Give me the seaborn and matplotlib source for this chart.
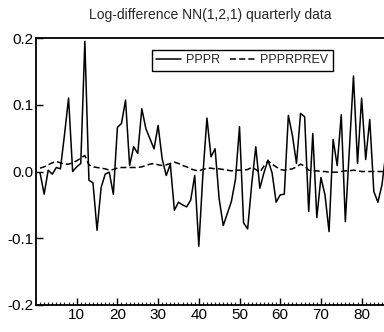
import numpy as np
import pandas as pd
import matplotlib
matplotlib.use("Agg")
import matplotlib.pyplot as plt
import seaborn as sns

obs = np.arange(1, 87)
pppr = [-0.002, -0.034, 0.002, -0.004, 0.006, 0.004, 0.055, 0.110, 0.000, 0.007,
        0.012, 0.195, -0.013, -0.017, -0.088, -0.024, -0.004, -0.001, -0.034, 0.066,
        0.072, 0.107, 0.009, 0.037, 0.027, 0.094, 0.064, 0.049, 0.034, 0.069,
        0.019, -0.006, 0.011, -0.058, -0.046, -0.050, -0.053, -0.043, -0.006, -0.112,
        -0.005, 0.080, 0.022, 0.034, -0.041, -0.081, -0.063, -0.045, -0.012, 0.067,
        -0.077, -0.086, -0.019, 0.037, -0.025, -0.002, 0.017, -0.002, -0.046, -0.035,
        -0.034, 0.084, 0.054, 0.012, 0.087, 0.082, -0.060, 0.057, -0.069, -0.009,
        -0.035, -0.090, 0.048, 0.009, 0.085, -0.075, 0.034, 0.143, 0.012, 0.110,
        0.018, 0.078, -0.030, -0.046, -0.020, 0.030]
ppprprev = [0.005, 0.007, 0.010, 0.013, 0.015, 0.013, 0.011, 0.011, 0.013, 0.016,
            0.020, 0.024, 0.010, 0.007, 0.006, 0.005, 0.004, 0.002, 0.003, 0.005,
            0.006, 0.006, 0.006, 0.006, 0.006, 0.007, 0.009, 0.011, 0.012, 0.010,
            0.009, 0.010, 0.012, 0.014, 0.012, 0.009, 0.007, 0.004, 0.002, 0.001,
            0.003, 0.005, 0.005, 0.004, 0.004, 0.003, 0.002, 0.001, 0.002, 0.002,
            0.002, 0.003, 0.006, 0.003, -0.001, 0.008, 0.016, 0.011, 0.007, 0.003,
            0.002, 0.003, 0.004, 0.007, 0.011, 0.008, 0.002, 0.001, 0.001, 0.000,
            0.000, -0.001, -0.001, -0.001, 0.000, 0.001, 0.001, 0.002, 0.001, 0.000,
            0.000, 0.000, 0.000, 0.000, 0.000, 0.000]
xticks = [10, 20, 30, 40, 50, 60, 70, 80]
yticks = [-0.2, -0.1, 0.0, 0.1, 0.2]

df = pd.DataFrame({"obs": np.concatenate([obs, obs]),
                   "value": pppr + ppprprev,
                   "series": ["PPPR"] * len(obs) + ["PPPRPREV"] * len(obs)})

sns.set_style("ticks")
plt.rcParams["font.family"] = ["Liberation Sans", "DejaVu Sans"]

fig = plt.figure(figsize=(3.84, 3.32), dpi=100)
ax = fig.add_axes([36 / 384, 27 / 332, 1 - 36 / 384, 267 / 332])

sns.lineplot(data=df, x="obs", y="value", style="series", color="black",
             linewidth=1.1, dashes={"PPPR": "", "PPPRPREV": (4, 2)}, ax=ax)

ax.set_xlim(0, 85.5)
ax.set_ylim(-0.2, 0.2)
ax.set_xticks(xticks)
ax.set_xticks(np.arange(1, 86), minor=True)
ax.set_yticks(yticks)
ax.set_yticklabels(["-0.2", "-0.1", "0.0", "0.1", "0.2"])
ax.tick_params(axis="both", which="major", direction="in", length=5, width=1,
               labelsize=11, colors="black", pad=2)
ax.tick_params(axis="x", which="minor", direction="in", length=2.5, width=0.8)
ax.set_xlabel("")
ax.set_ylabel("")
for s in ["left", "top", "bottom"]:
    ax.spines[s].set_linewidth(1.3)
    ax.spines[s].set_color("black")
ax.spines["right"].set_visible(False)

ax.set_title("Log-difference NN(1,2,1) quarterly data", fontsize=10, pad=14)

leg = ax.legend(loc="upper right", bbox_to_anchor=(0.853, 0.955), ncol=2,
                fontsize=9, frameon=True, fancybox=False, handlelength=2.0,
                handletextpad=0.4, columnspacing=0.8, borderpad=0.35,
                borderaxespad=0)
leg.get_frame().set_edgecolor("black")
leg.get_frame().set_linewidth(1.0)
leg.get_frame().set_alpha(1)

fig.savefig("out.png", dpi=100)
